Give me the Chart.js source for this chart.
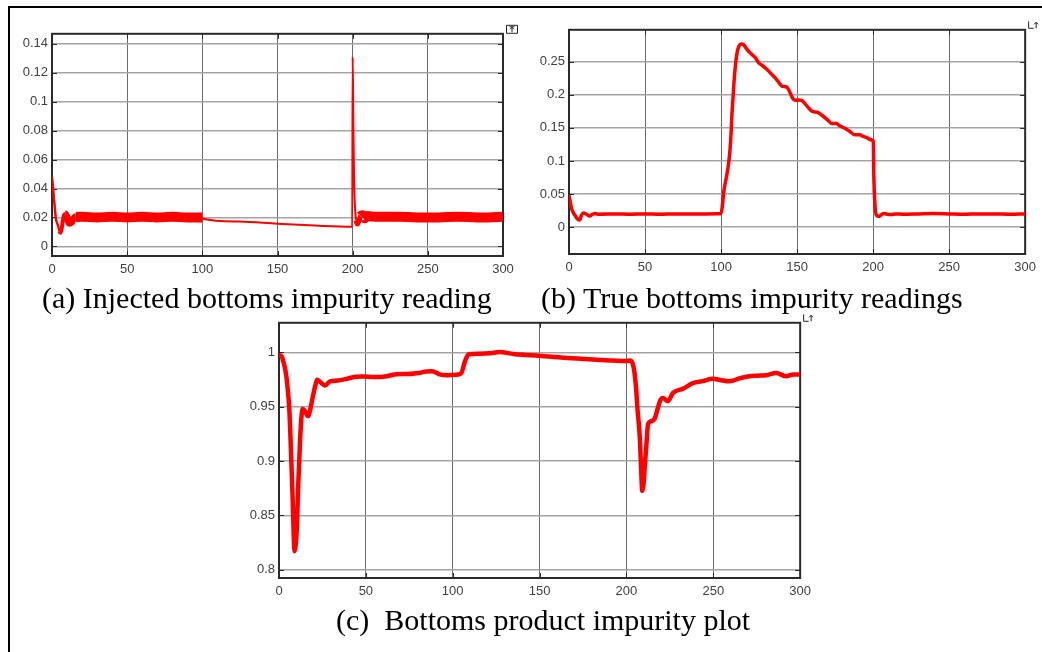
<!DOCTYPE html>
<html>
<head>
<meta charset="utf-8">
<script src="https://cdn.jsdelivr.net/npm/chart.js@4.4.1/dist/chart.umd.min.js"></script>
<style>
  body { margin: 0; background: #fff; width: 1042px; height: 652px; overflow: hidden; position: relative; }
  #outline { position: absolute; left: 8px; top: 6px; width: 1100px; height: 700px; border-top: 2px solid #000; border-left: 2px solid #000; }
  canvas { position: absolute; }
  .cap { position: absolute; font-family: 'Liberation Serif', 'Times New Roman', serif; font-size: 30px; line-height: 30px;
         white-space: pre; color: #000; }
</style>
</head>
<body>
<div id="outline"></div>
<canvas id="chartA" width="508" height="260" style="left:12px;top:22px;width:508px;height:260px"></canvas>
<canvas id="chartB" width="513" height="262" style="left:529px;top:18px;width:513px;height:262px"></canvas>
<canvas id="chartC" width="578" height="293" style="left:239px;top:311px;width:578px;height:293px"></canvas>
<div class="cap" id="capA" style="left:42px;top:283px"></div>
<div class="cap" id="capB" style="left:541px;top:283px"></div>
<div class="cap" id="capC" style="left:336px;top:605px"></div>

<script>
    // Data (time on x, impurity on y)

    // x ticks shared by all three plots
    var xTicks = [0, 50, 100, 150, 200, 250, 300];
    var xTickLabels = ['0', '50', '100', '150', '200', '250', '300'];

    // (a) Injected bottoms impurity reading
    var aX = [0, 0.8, 1.6, 2.6, 3.5, 4.3, 5.0, 5.6, 6.3, 7.1,
              7.9, 8.8, 9.7, 10.6, 11.6, 12.8, 14.2, 15.8, 17.3, 20,
              30, 40, 50, 60, 70, 80, 90, 99.8, 100.3, 125,
              150, 175, 199.7, 200, 200.4, 200.9, 201.5, 202.3, 203.2, 204.3,
              205.3, 206.5, 208, 210, 215, 230, 250, 270, 290, 300];
    var aY = [0.048, 0.039, 0.030, 0.019, 0.016, 0.0134, 0.0105, 0.0095, 0.0115, 0.017,
              0.0215, 0.0225, 0.021, 0.018, 0.016, 0.0165, 0.019, 0.0205, 0.0204, 0.0205,
              0.020, 0.0205, 0.020, 0.0205, 0.020, 0.0205, 0.0200, 0.0200, 0.0192, 0.0172,
              0.0156, 0.0144, 0.0136, 0.131, 0.090, 0.050, 0.028, 0.018, 0.0155, 0.018,
              0.021, 0.0215, 0.0195, 0.021, 0.0205, 0.0205, 0.0200, 0.0205, 0.0200, 0.0205];
    var aYTicks = [0, 0.02, 0.04, 0.06, 0.08, 0.1, 0.12, 0.14];
    var aYTickLabels = ['0', '0.02', '0.04', '0.06', '0.08', '0.1', '0.12', '0.14'];

    // (b) True bottoms impurity readings
    var bX = [0, 0.7, 1.7, 2.8, 3.9, 5.0, 6.0, 7.0, 8.3, 9.5,
              11.5, 13.6, 15.5, 17, 20, 30, 40, 50, 60, 70,
              80, 90, 100, 101, 101.9, 103.5, 105.2, 106.3, 107.3, 108.4,
              109.5, 110.6, 111.7, 113.4, 114.8, 116.1, 118, 120.4, 122.5, 124.8,
              127, 129.1, 131.2, 133.4, 135.6, 137.8, 140, 143.3, 145.4, 147,
              148.7, 151, 153, 155, 157.4, 159.6, 163.9, 166, 168.3, 170.5,
              172.6, 175.9, 178, 180.3, 182.5, 184.7, 187.9, 191.2, 193.5, 195.5,
              197.5, 199.2, 200.1, 200.5, 201.2, 202, 203, 204.2, 205.5, 207.4,
              209.5, 211.7, 215, 220, 230, 240, 250, 260, 270, 280,
              290, 300];
    var bY = [0.048, 0.040, 0.028, 0.022, 0.018, 0.014, 0.0115, 0.011, 0.0185, 0.0215,
              0.0195, 0.017, 0.0195, 0.0205, 0.0195, 0.0200, 0.0195, 0.0200, 0.0195, 0.0200,
              0.0200, 0.0200, 0.0205, 0.035, 0.0555, 0.075, 0.1005, 0.130, 0.1755, 0.215,
              0.2455, 0.264, 0.273, 0.2765, 0.2755, 0.2715, 0.266, 0.2605, 0.256, 0.248,
              0.2445, 0.2405, 0.236, 0.2305, 0.2255, 0.219, 0.213, 0.2115, 0.203, 0.195,
              0.1915, 0.192, 0.1915, 0.187, 0.1805, 0.1755, 0.173, 0.1695, 0.1655, 0.161,
              0.1565, 0.1565, 0.153, 0.1505, 0.148, 0.1445, 0.1395, 0.1395, 0.137, 0.1355,
              0.133, 0.1315, 0.1305, 0.075, 0.035, 0.019, 0.0165, 0.0165, 0.019, 0.0205,
              0.0195, 0.019, 0.0200, 0.0195, 0.0200, 0.0205, 0.0200, 0.0195, 0.0200, 0.0200,
              0.0195, 0.0200];
    var bYTicks = [0, 0.05, 0.1, 0.15, 0.2, 0.25];
    var bYTickLabels = ['0', '0.05', '0.1', '0.15', '0.2', '0.25'];

    // (c) Bottoms product impurity plot
    var cX = [0, 1.5, 2.5, 3.5, 4.4, 5.2, 5.9, 6.9, 7.9, 8.5,
              8.9, 9.5, 10.2, 11.1, 12.1, 12.9, 13.6, 15, 16.2, 16.9,
              17.8, 19.7, 21, 22, 24.5, 26.5, 29.3, 34, 38.9, 44,
              48.5, 55, 62, 67.7, 74, 80, 84.9, 88, 93, 97,
              101.7, 104.9, 107, 109.2, 115, 121, 127, 135, 142, 153,
              164, 174, 185, 192, 199.8, 202, 203.5, 204.5, 205.5, 206.5,
              207.6, 208.4, 209.1, 209.8, 210.5, 211.5, 212.4, 214.3, 216.2, 218.1,
              219.5, 221, 223.9, 226.7, 232.5, 238.2, 244, 249.7, 254, 259.3,
              265, 270.8, 275, 280.4, 286.2, 291.9, 296, 300];
    var cY = [0.9975, 0.9965, 0.9915, 0.985, 0.976, 0.963, 0.9488, 0.909, 0.8634, 0.830,
              0.817, 0.821, 0.836, 0.8787, 0.918, 0.940, 0.9479, 0.946, 0.942, 0.9412,
              0.946, 0.961, 0.970, 0.9747, 0.9717, 0.9695, 0.9732, 0.974, 0.9756, 0.9775,
              0.9778, 0.9772, 0.978, 0.9799, 0.980, 0.981, 0.9823, 0.9825, 0.9795, 0.979,
              0.9793, 0.9808, 0.9915, 0.9982, 0.9988, 0.9991, 1.0003, 0.9985, 0.9976, 0.9965,
              0.9951, 0.994, 0.993, 0.9925, 0.992, 0.9925, 0.990, 0.983, 0.968, 0.945,
              0.9244, 0.895, 0.8726, 0.878, 0.894, 0.915, 0.9336, 0.9366, 0.939, 0.9488,
              0.956, 0.958, 0.955, 0.9625, 0.9665, 0.9716, 0.9735, 0.9757, 0.9745, 0.9733,
              0.976, 0.978, 0.9785, 0.979, 0.981, 0.978, 0.9795, 0.9795];
    var cYTicks = [0.8, 0.85, 0.9, 0.95, 1];
    var cYTickLabels = ['0.8', '0.85', '0.9', '0.95', '1'];

    var captionA = '(a) Injected bottoms impurity reading';
    var captionB = '(b) True bottoms impurity readings';
    var captionC = '(c)  Bottoms product impurity plot';

    document.getElementById('capA').textContent = captionA;
    document.getElementById('capB').textContent = captionB;
    document.getElementById('capC').textContent = captionC;

    // frame, inner tick marks and the little scope icon in the corner
    var scopeFrame = {
        id: 'scopeFrame',
        beforeDatasetsDraw: function (chart) {
            var ctx = chart.ctx, a = chart.chartArea;
            ctx.save();
            ctx.strokeStyle = '#2a2a2a';
            ctx.lineWidth = 1;
            ctx.beginPath();
            chart.scales.y.ticks.forEach(function (t) {
                var py = Math.round(chart.scales.y.getPixelForValue(t.value)) + 0.5;
                ctx.moveTo(a.left, py); ctx.lineTo(a.left + 5, py);
                ctx.moveTo(a.right, py); ctx.lineTo(a.right - 5, py);
            });
            chart.scales.x.ticks.forEach(function (t) {
                var px = Math.round(chart.scales.x.getPixelForValue(t.value)) + 0.5;
                ctx.moveTo(px, a.top); ctx.lineTo(px, a.top + 5);
                ctx.moveTo(px, a.bottom); ctx.lineTo(px, a.bottom - 5);
            });
            ctx.stroke();
            ctx.lineWidth = 2;
            ctx.strokeRect(a.left, a.top, a.right - a.left, a.bottom - a.top);
            ctx.restore();
        },
        afterDraw: function (chart, args, opts) {
            var ctx = chart.ctx, a = chart.chartArea;
            var ix = a.right + 3.5, iy = a.top - 8.5;
            ctx.save();
            ctx.strokeStyle = '#222';
            ctx.lineWidth = 1;
            ctx.beginPath();
            if (opts.box) {
                ctx.rect(ix, iy, 11, 8);
                ctx.moveTo(ix + 5.5, iy + 7); ctx.lineTo(ix + 5.5, iy + 2);
                ctx.moveTo(ix + 3.5, iy + 4); ctx.lineTo(ix + 5.5, iy + 2); ctx.lineTo(ix + 7.5, iy + 4);
                ctx.moveTo(ix + 3, iy + 1.5); ctx.lineTo(ix + 8, iy + 1.5);
            } else {
                ctx.moveTo(ix, iy); ctx.lineTo(ix, iy + 7); ctx.lineTo(ix + 5, iy + 7);
                ctx.moveTo(ix + 7.5, iy + 7); ctx.lineTo(ix + 7.5, iy + 1);
                ctx.moveTo(ix + 5.5, iy + 3); ctx.lineTo(ix + 7.5, iy + 1); ctx.lineTo(ix + 9.5, iy + 3);
            }
            ctx.stroke();
            ctx.restore();
        }
    };

    function toPoints(xs, ys) {
        return xs.map(function (x, i) { return { x: x, y: ys[i] }; });
    }

    function makeScope(id, xs, ys, yMin, yMax, yTicks, yLabels, widthFn, padRight, boxIcon) {
        var ctx = document.getElementById(id).getContext('2d');
        return new Chart(ctx, {
            type: 'line',
            data: {
                datasets: [{
                    data: toPoints(xs, ys),
                    borderColor: 'rgba(255, 0, 0, 1)',
                    borderWidth: 4,
                    pointRadius: 0,
                    cubicInterpolationMode: 'monotone',
                    borderJoinStyle: 'round',
                    clip: 0,
                    segment: {
                        borderWidth: function (c) { return widthFn(c.p0.parsed.x); }
                    }
                }]
            },
            options: {
                responsive: false,
                animation: false,
                events: [],
                layout: { padding: { top: 10, right: padRight, left: 0, bottom: 0 } },
                plugins: {
                    legend: { display: false },
                    tooltip: { enabled: false },
                    scopeFrame: { box: boxIcon }
                },
                scales: {
                    x: {
                        type: 'linear',
                        min: 0,
                        max: 300,
                        afterBuildTicks: function (s) { s.ticks = xTicks.map(function (v) { return { value: v }; }); },
                        afterFit: function (s) { s.height = 26; },
                        border: { display: false },
                        grid: { color: '#6a6a6a', lineWidth: 1, drawTicks: false },
                        ticks: {
                            padding: 6,
                            color: '#404040',
                            maxRotation: 0,
                            font: { family: "'Liberation Sans', Arial, sans-serif", size: 13 },
                            callback: function (v, i) { return xTickLabels[i]; }
                        }
                    },
                    y: {
                        type: 'linear',
                        min: yMin,
                        max: yMax,
                        afterBuildTicks: function (s) { s.ticks = yTicks.map(function (v) { return { value: v }; }); },
                        afterFit: function (s) { s.width = 40; },
                        border: { display: false },
                        grid: { color: '#a4a4a4', lineWidth: 1.5, drawTicks: false },
                        ticks: {
                            padding: 4,
                            color: '#404040',
                            font: { family: "'Liberation Sans', Arial, sans-serif", size: 13 },
                            callback: function (v, i) { return yLabels[i]; }
                        }
                    }
                }
            },
            plugins: [scopeFrame]
        });
    }

    // line thickness follows how noisy the trace is
    function widthA(x) {
        if (x < 5) return 2.5;
        if (x < 8) return 4;
        if (x < 15) return 7;
        if (x < 99.8) return 10;
        if (x < 202) return 2;
        if (x < 205) return 5;
        return 10;
    }
    function widthB(x) { return 3.5; }
    function widthC(x) { return 4.5; }

    var chartA = makeScope('chartA', aX, aY, -0.0066, 0.1469, aYTicks, aYTickLabels, widthA, 17, true);
    var chartB = makeScope('chartB', bX, bY, -0.0405, 0.298, bYTicks, bYTickLabels, widthB, 14, false);
    var chartC = makeScope('chartC', cX, cY, 0.7923, 1.0272, cYTicks, cYTickLabels, widthC, 16, false);
</script>
</body>
</html>
